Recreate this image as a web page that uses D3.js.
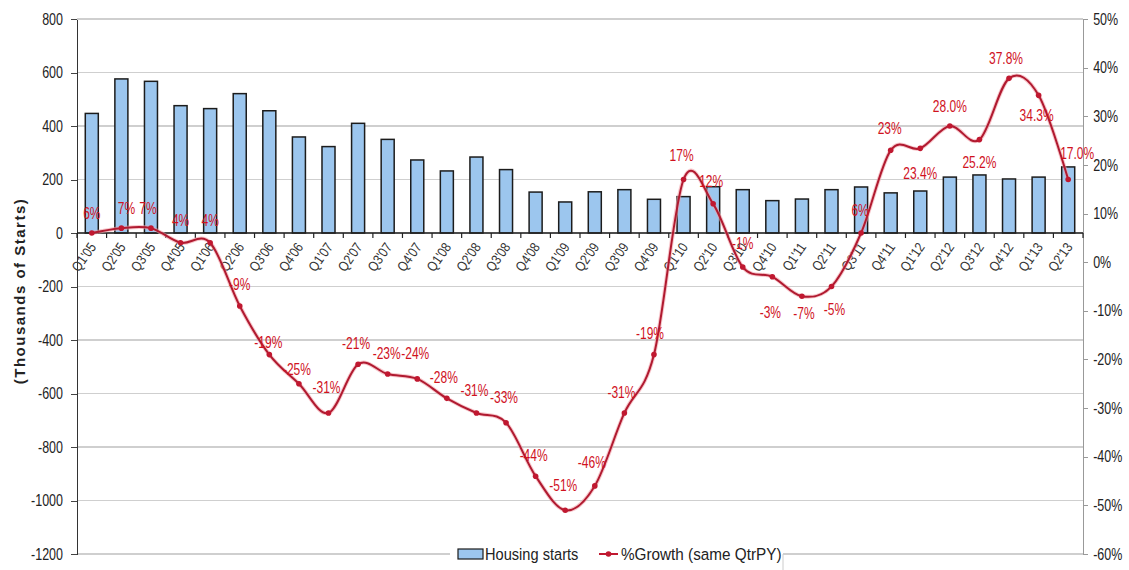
<!DOCTYPE html>
<html>
<head>
<meta charset="utf-8">
<script src="https://cdn.jsdelivr.net/npm/d3@7"></script>
<style>
  body { margin: 0; background: #fff; }
  svg text { font-family: "Liberation Sans", Arial, sans-serif; }
  .axis path, .axis line { shape-rendering: crispEdges; }
</style>
</head>
<body>
<div id="chart"></div>
<script>
const quarters = ["Q1'05","Q2'05","Q3'05","Q4'05","Q1'06","Q2'06","Q3'06","Q4'06","Q1'07","Q2'07","Q3'07","Q4'07",
  "Q1'08","Q2'08","Q3'08","Q4'08","Q1'09","Q2'09","Q3'09","Q4'09","Q1'10","Q2'10","Q3'10","Q4'10",
  "Q1'11","Q2'11","Q3'11","Q4'11","Q1'12","Q2'12","Q3'12","Q4'12","Q1'13","Q2'13"];

// housing starts (thousands)
const housingStarts = [447, 576, 567, 476, 465, 521, 457, 359, 323, 410, 350, 273,
  232, 284, 237, 153, 116, 154, 162, 126, 136, 173, 162, 121,
  127, 162, 172, 150, 157, 209, 217, 202, 209, 247];

// % growth vs same quarter previous year
const growth = [0.06, 0.07, 0.07, 0.04, 0.04, -0.09, -0.19, -0.25, -0.31, -0.21, -0.23, -0.24,
  -0.28, -0.31, -0.33, -0.44, -0.51, -0.46, -0.31, -0.19, 0.17, 0.12, -0.01, -0.03,
  -0.07, -0.05, 0.06, 0.23, 0.234, 0.28, 0.252, 0.378, 0.343, 0.17];

const growthLabels = ["6%","7%","7%","4%","4%","-9%","-19%","-25%","-31%","-21%","-23%","-24%",
  "-28%","-31%","-33%","-44%","-51%","-46%","-31%","-19%","17%","12%","-1%","-3%",
  "-7%","-5%","6%","23%","23.4%","28.0%","25.2%","37.8%","34.3%","17.0%"];

const leftTicks = [-1200, -1000, -800, -600, -400, -200, 0, 200, 400, 600, 800];
const rightTicks = [-0.6, -0.5, -0.4, -0.3, -0.2, -0.1, 0, 0.1, 0.2, 0.3, 0.4, 0.5];

// label placement (offset of label centre from its point)
const labelOffsets = [[0,-20],[5,-20],[-3,-20],[0,-22],[0,-22],[0,-21],[-1,-12],[-2,-14],[-2,-25],[-2,-21],[-1,-21],[-2,-25],
  [-3,-21],[-2,-22],[-2,-25],[-2,-21],[-2,-25],[-3,-23],[-3,-20],[-4,-21],[-2,-24],[-2,-22],[0,-24],[-2,36],
  [2,17],[3,23],[-1,-23],[-1,-22],[0,25],[0,-20],[0,23],[-3,-20],[-2,20],[9,-26]];

const width = 1129, height = 570;
const plot = { left: 77, right: 1083, top: 19, bottom: 554 };
const narrow = 0.78;  // no condensed face installed, so squeeze text horizontally

const svg = d3.select("#chart").append("svg")
  .attr("width", width)
  .attr("height", height);

const x = d3.scaleBand()
  .domain(quarters)
  .range([plot.left, plot.right])
  .paddingInner(0.56)
  .paddingOuter(0.28);

const step = x.step();
const cx = q => x(q) + x.bandwidth() / 2;

const yLeft = d3.scaleLinear().domain([-1200, 800]).range([plot.bottom, plot.top]);
const yRight = d3.scaleLinear().domain([-0.6, 0.5]).range([plot.bottom, plot.top]);

// gridlines
svg.append("g")
  .selectAll("line")
  .data(leftTicks)
  .enter().append("line")
  .attr("x1", plot.left).attr("x2", plot.right)
  .attr("y1", d => yLeft(d)).attr("y2", d => yLeft(d))
  .attr("stroke", "#cfcfcf")
  .attr("stroke-width", 1.2)
  .attr("shape-rendering", "crispEdges");

// bars
svg.append("g")
  .selectAll("rect")
  .data(housingStarts)
  .enter().append("rect")
  .attr("x", (d, i) => x(quarters[i]))
  .attr("width", x.bandwidth())
  .attr("y", d => yLeft(d))
  .attr("height", d => yLeft(0) - yLeft(d))
  .attr("fill", "#9cc6ee")
  .attr("stroke", "#1c1c1c")
  .attr("stroke-width", 1.5);

// left axis
const leftAxis = svg.append("g")
  .attr("class", "axis")
  .attr("transform", `translate(${plot.left},0)`)
  .call(d3.axisLeft(yLeft).tickValues(leftTicks).tickSize(6).tickSizeOuter(0).tickPadding(12).tickFormat(d => String(d)));
leftAxis.select(".domain").attr("stroke", "#333").attr("stroke-width", 1.5);
leftAxis.selectAll(".tick line").attr("stroke", "#444");
leftAxis.selectAll("text")
  .attr("font-size", 16).attr("fill", "#222")
  .attr("transform", `scale(${narrow},1)`);

// right axis
const rightAxis = svg.append("g")
  .attr("class", "axis")
  .attr("transform", `translate(${plot.right},0)`)
  .call(d3.axisRight(yRight).tickValues(rightTicks).tickSize(5).tickSizeOuter(0).tickPadding(8)
    .tickFormat(d => Math.round(d * 100) + "%"));
rightAxis.select(".domain").attr("stroke", "#999").attr("stroke-width", 1.2);
rightAxis.selectAll(".tick line").attr("stroke", "#999");
rightAxis.selectAll("text")
  .attr("font-size", 16).attr("fill", "#222")
  .attr("transform", `scale(${narrow},1)`);

// category axis along zero
const zeroY = yLeft(0);
svg.append("line")
  .attr("x1", plot.left).attr("x2", plot.right)
  .attr("y1", zeroY).attr("y2", zeroY)
  .attr("stroke", "#222").attr("stroke-width", 1.6);

svg.append("g")
  .selectAll("line")
  .data(d3.range(quarters.length + 1))
  .enter().append("line")
  .attr("x1", i => plot.left + i * step).attr("x2", i => plot.left + i * step)
  .attr("y1", zeroY).attr("y2", zeroY + 5)
  .attr("stroke", "#222").attr("stroke-width", 1.2);

svg.append("g")
  .selectAll("text")
  .data(quarters)
  .enter().append("text")
  .attr("transform", q => `translate(${cx(q) + 5},${zeroY + 14}) rotate(-55) scale(0.85,1)`)
  .attr("text-anchor", "end")
  .attr("font-size", 14)
  .attr("fill", "#333")
  .text(q => q);

// axis title
svg.append("text")
  .attr("transform", `translate(25,291) rotate(-90)`)
  .attr("text-anchor", "middle")
  .attr("font-size", 15)
  .attr("font-weight", "bold")
  .attr("letter-spacing", 1.5)
  .attr("fill", "#222")
  .text("(Thousands of Starts)");

// growth line
const line = d3.line()
  .x((d, i) => cx(quarters[i]))
  .y(d => yRight(d))
  .curve(d3.curveCardinal.tension(0));

svg.append("path")
  .datum(growth)
  .attr("d", line)
  .attr("fill", "none")
  .attr("stroke", "#f2a0a8")
  .attr("stroke-width", 4)
  .attr("opacity", 0.6);

svg.append("path")
  .datum(growth)
  .attr("d", line)
  .attr("fill", "none")
  .attr("stroke", "#b01a30")
  .attr("stroke-width", 2);

svg.append("g")
  .selectAll("circle")
  .data(growth)
  .enter().append("circle")
  .attr("cx", (d, i) => cx(quarters[i]))
  .attr("cy", d => yRight(d))
  .attr("r", 2.8)
  .attr("fill", "#c01830");

svg.append("g")
  .selectAll("text")
  .data(growth)
  .enter().append("text")
  .attr("transform", (d, i) =>
    `translate(${cx(quarters[i]) + labelOffsets[i][0]},${yRight(d) + labelOffsets[i][1] + 5.5}) scale(0.75,1)`)
  .attr("text-anchor", "middle")
  .attr("font-size", 16)
  .attr("fill", "#d0121e")
  .text((d, i) => growthLabels[i]);

// legend
const legend = svg.append("g");
legend.append("rect")
  .attr("x", 450).attr("y", 540).attr("width", 333).attr("height", 40)
  .attr("fill", "#fff");
legend.append("line")
  .attr("x1", 783).attr("x2", 783).attr("y1", 554).attr("y2", 570)
  .attr("stroke", "#ccc");
legend.append("rect")
  .attr("x", 458).attr("y", 549).attr("width", 25).attr("height", 10)
  .attr("fill", "#9cc6ee").attr("stroke", "#1c1c1c").attr("stroke-width", 1.2);
legend.append("text")
  .attr("transform", "translate(485,560) scale(0.86,1)")
  .attr("font-size", 17).attr("fill", "#222")
  .text("Housing starts");
legend.append("line")
  .attr("x1", 599).attr("x2", 618).attr("y1", 554).attr("y2", 554)
  .attr("stroke", "#c01830").attr("stroke-width", 2);
legend.append("circle")
  .attr("cx", 608.5).attr("cy", 554).attr("r", 2.8)
  .attr("fill", "#c01830");
legend.append("text")
  .attr("transform", "translate(621,560) scale(0.9,1)")
  .attr("font-size", 17).attr("fill", "#222")
  .text("%Growth (same QtrPY)");
</script>
</body>
</html>
